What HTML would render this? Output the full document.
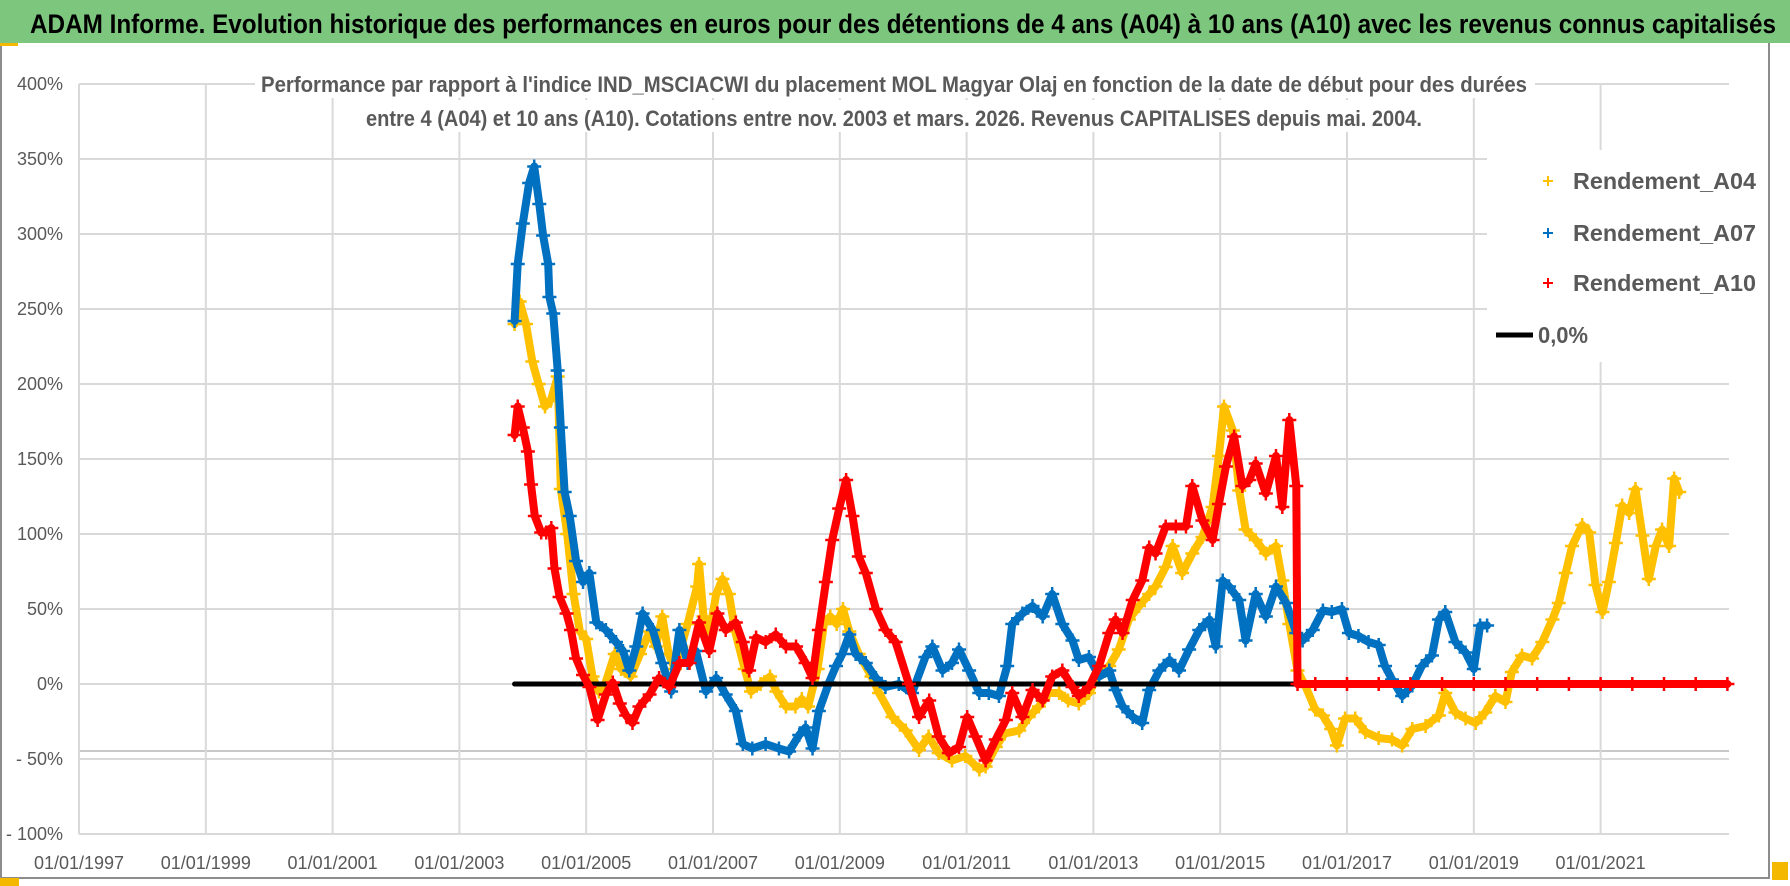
<!DOCTYPE html>
<html><head><meta charset="utf-8"><style>
html,body{margin:0;padding:0;background:#fff;}
svg{display:block;font-family:"Liberation Sans",sans-serif;}
</style></head><body>
<svg id="chart" width="1790" height="886" viewBox="0 0 1790 886" xmlns="http://www.w3.org/2000/svg">
<rect x="0" y="0" width="1790" height="886" fill="#fff"/>
<rect x="1" y="1" width="1768" height="877" fill="none" stroke="#8c8c8c" stroke-width="2"/>
<rect x="0" y="0" width="1790" height="43" fill="#7dc67e"/>
<rect x="0" y="43" width="18" height="3" fill="#f5b800"/>
<rect x="0" y="878" width="19" height="8" fill="#f5b800"/>
<rect x="1772" y="862" width="16" height="18" fill="#f5b800"/>
<text x="30" y="33" font-size="27" font-weight="bold" fill="#000" textLength="1746" lengthAdjust="spacingAndGlyphs">ADAM Informe. Evolution historique des performances en euros pour des détentions de 4 ans (A04) à 10 ans (A10) avec les revenus connus capitalisés</text>
<g id="grid"></g>
<g id="yaxis"></g>
<g id="xaxis"></g>
<g id="series"></g>
<rect x="255" y="68" width="1280" height="30" fill="#fff"/>
<rect x="360" y="100" width="1070" height="32" fill="#fff"/>
<text x="261" y="92" font-size="22" font-weight="bold" fill="#595959" textLength="1266" lengthAdjust="spacingAndGlyphs">Performance par rapport à l'indice IND_MSCIACWI  du placement MOL Magyar Olaj en fonction de la date de début pour des durées</text>
<text x="366" y="126" font-size="22" font-weight="bold" fill="#595959" textLength="1056" lengthAdjust="spacingAndGlyphs">entre 4 (A04) et 10 ans (A10). Cotations entre nov. 2003 et mars. 2026. Revenus CAPITALISES depuis mai. 2004.</text>
<g>
<rect x="1487" y="150" width="280" height="212" fill="#fff"/>
<g><path d="M1543 181h10M1548 176v10" stroke="#ffc000" stroke-width="2"/><text x="1573" y="189" font-size="23" font-weight="bold" fill="#595959" textLength="183" lengthAdjust="spacingAndGlyphs">Rendement_A04</text></g>
<g><path d="M1543 233h10M1548 228v10" stroke="#0070c0" stroke-width="2"/><text x="1573" y="241" font-size="23" font-weight="bold" fill="#595959" textLength="183" lengthAdjust="spacingAndGlyphs">Rendement_A07</text></g>
<g><path d="M1543 283h10M1548 278v10" stroke="#ff0000" stroke-width="2"/><text x="1573" y="291" font-size="23" font-weight="bold" fill="#595959" textLength="183" lengthAdjust="spacingAndGlyphs">Rendement_A10</text></g>
<g><line x1="1496" y1="335" x2="1533" y2="335" stroke="#000" stroke-width="5"/><text x="1538" y="343" font-size="23" font-weight="bold" fill="#595959" textLength="50" lengthAdjust="spacingAndGlyphs">0,0%</text></g>
</g>
</svg>
<script>
const yTicks = [400,350,300,250,200,150,100,50,0,-50,-100];
const yTickLabels = ["400%","350%","300%","250%","200%","150%","100%","50%","0%","- 50%","- 100%"];
const xTicks = [1997,1999,2001,2003,2005,2007,2009,2011,2013,2015,2017,2019,2021];
const xTickLabels = ["01/01/1997","01/01/1999","01/01/2001","01/01/2003","01/01/2005","01/01/2007","01/01/2009","01/01/2011","01/01/2013","01/01/2015","01/01/2017","01/01/2019","01/01/2021"];

const datesA04 = [2003.87,2003.95,2004.05,2004.15,2004.25,2004.35,2004.45,2004.55,2004.6,2004.7,2004.8,2004.9,2005.0,2005.1,2005.2,2005.3,2005.45,2005.55,2005.7,2005.85,2006.0,2006.1,2006.2,2006.3,2006.4,2006.5,2006.6,2006.75,2006.78,2006.85,2006.95,2007.05,2007.15,2007.25,2007.35,2007.5,2007.6,2007.75,2007.9,2008.0,2008.15,2008.3,2008.4,2008.5,2008.65,2008.75,2008.85,2008.95,2009.05,2009.15,2009.3,2009.5,2009.62,2009.83,2010.04,2010.25,2010.4,2010.56,2010.77,2010.98,2011.2,2011.3,2011.46,2011.6,2011.83,2011.98,2012.14,2012.3,2012.46,2012.6,2012.77,2012.93,2013.09,2013.25,2013.4,2013.56,2013.72,2013.88,2013.98,2014.14,2014.25,2014.4,2014.56,2014.72,2014.88,2014.98,2015.06,2015.2,2015.3,2015.4,2015.56,2015.72,2015.88,2015.98,2016.09,2016.22,2016.35,2016.5,2016.62,2016.75,2016.84,2016.97,2017.13,2017.29,2017.5,2017.71,2017.87,2018.03,2018.24,2018.45,2018.55,2018.71,2018.87,2019.03,2019.18,2019.34,2019.5,2019.6,2019.76,2019.92,2020.08,2020.24,2020.34,2020.45,2020.55,2020.71,2020.82,2020.92,2021.03,2021.13,2021.24,2021.34,2021.45,2021.55,2021.66,2021.76,2021.87,2021.97,2022.08,2022.16,2022.24];
const valuesA04 = [240,255,240,215,200,185,190,205,130,100,60,35,30,5,-5,0,20,10,5,20,35,25,45,20,10,25,40,65,80,45,35,60,70,60,35,10,-5,0,5,-5,-15,-15,-10,-15,10,40,45,40,50,35,20,5,-6,-22,-31,-44,-35,-46,-51,-48,-57,-55,-42,-33,-31,-22,-15,-6,-6,-11,-13,-6,7,12,23,43,52,60,65,78,92,74,87,98,118,152,185,169,129,103,96,87,92,69,40,9,-2,-17,-21,-30,-41,-23,-23,-32,-36,-37,-41,-30,-28,-21,-6,-19,-23,-26,-19,-8,-12,8,19,17,28,43,54,74,92,106,101,66,48,68,94,119,114,130,99,70,92,103,92,137,128];

const datesA07 = [2003.87,2003.92,2004.0,2004.1,2004.18,2004.26,2004.32,2004.4,2004.42,2004.48,2004.55,2004.6,2004.66,2004.74,2004.84,2004.95,2005.05,2005.16,2005.31,2005.47,2005.58,2005.68,2005.79,2005.89,2006.05,2006.2,2006.34,2006.47,2006.6,2006.73,2006.89,2007.05,2007.2,2007.36,2007.47,2007.62,2007.83,2008.04,2008.2,2008.36,2008.46,2008.57,2008.67,2008.83,2008.94,2009.04,2009.15,2009.25,2009.41,2009.57,2009.72,2009.93,2010.14,2010.35,2010.46,2010.62,2010.77,2010.88,2011.04,2011.2,2011.35,2011.51,2011.64,2011.72,2011.88,2012.04,2012.2,2012.35,2012.51,2012.67,2012.77,2012.93,2013.09,2013.25,2013.35,2013.46,2013.62,2013.77,2013.88,2014.04,2014.2,2014.35,2014.51,2014.67,2014.83,2014.93,2015.04,2015.14,2015.3,2015.4,2015.56,2015.72,2015.88,2016.04,2016.2,2016.3,2016.46,2016.62,2016.76,2016.92,2017.03,2017.18,2017.34,2017.5,2017.6,2017.71,2017.87,2018.03,2018.18,2018.34,2018.45,2018.55,2018.71,2018.87,2019.0,2019.1,2019.21];
const valuesA07 = [242,280,307,334,345,320,299,280,258,247,209,171,128,112,82,68,74,41,36,28,22,9,25,47,36,14,-5,36,14,22,-5,4,-7,-18,-40,-43,-40,-43,-45,-34,-29,-43,-18,1,12,20,33,20,14,4,-2,0,-6,18,25,9,14,23,9,-6,-6,-8,12,40,47,52,45,60,40,29,16,18,5,9,-4,-15,-22,-26,-4,9,16,9,23,36,43,25,69,65,56,29,60,45,65,54,34,29,36,49,48,50,34,32,28,26,12,3,-8,-1,12,19,43,48,28,21,10,39,39];

const datesA10 = [2003.87,2003.92,2004.0,2004.08,2004.13,2004.19,2004.29,2004.37,2004.45,2004.5,2004.58,2004.69,2004.76,2004.84,2004.95,2005.05,2005.18,2005.31,2005.42,2005.53,2005.63,2005.73,2005.84,2006.0,2006.15,2006.31,2006.47,2006.63,2006.78,2006.94,2007.07,2007.2,2007.36,2007.47,2007.57,2007.68,2007.83,2007.99,2008.15,2008.31,2008.46,2008.57,2008.67,2008.78,2008.88,2008.99,2009.1,2009.2,2009.3,2009.41,2009.57,2009.72,2009.88,2010.09,2010.25,2010.41,2010.56,2010.72,2010.88,2011.01,2011.14,2011.3,2011.46,2011.62,2011.72,2011.88,2012.04,2012.2,2012.35,2012.51,2012.67,2012.77,2012.93,2013.09,2013.25,2013.35,2013.46,2013.62,2013.77,2013.88,2013.98,2014.14,2014.3,2014.46,2014.56,2014.72,2014.88,2014.98,2015.09,2015.22,2015.35,2015.46,2015.56,2015.72,2015.88,2015.98,2016.09,2016.2,2016.22,2016.5,2017.0,2017.5,2018.0,2018.5,2019.0,2019.5,2020.0,2020.5,2021.0,2021.5,2022.0,2022.5,2023.0];
const valuesA10 = [166,185,171,155,133,112,101,101,104,77,58,47,36,17,6,-2,-24,-7,1,-13,-21,-26,-15,-7,4,-2,14,14,41,22,47,36,41,28,9,31,28,33,25,25,14,4,36,68,96,117,136,112,85,74,50,36,28,0,-22,-11,-35,-46,-42,-22,-35,-51,-37,-24,-6,-22,-4,-11,5,9,-2,-8,-2,12,34,43,34,56,69,91,87,105,105,105,132,109,96,120,145,165,132,136,147,127,152,118,176,132,0,0,0,0,0,0,0,0,0,0,0,0,0,0,0];

const zeroDates = [2003.87,2016.22];
const zeroValues = [0,0];

const NS = "http://www.w3.org/2000/svg";
const X0 = 79, XPERYEAR = 63.4, Y0 = 684, YPERPCT = 1.5, XRIGHT = 1729;
function xScale(yr){ return X0 + (yr - 1997) * XPERYEAR; }
function yScale(v){ return Y0 - v * YPERPCT; }
function mk(tag, attrs, parent){ const e = document.createElementNS(NS, tag); for (const k in attrs) e.setAttribute(k, attrs[k]); parent.appendChild(e); return e; }

const grid = document.getElementById('grid');
yTicks.forEach(v => {
  const l = mk('line', {x1: X0, x2: XRIGHT, y1: yScale(v), y2: yScale(v), stroke: '#d9d9d9', 'stroke-width': 2}, grid);
  
  
});
const extra = mk('line', {x1: X0, x2: XRIGHT, y1: 751, y2: 751, stroke: '#c8c8c8', 'stroke-width': 2}, grid);


xTicks.forEach(t => {
  const l = mk('line', {x1: xScale(t), x2: xScale(t), y1: yScale(400), y2: yScale(-100), stroke: '#d9d9d9', 'stroke-width': 2}, grid);
  
  
});

const yaxis = document.getElementById('yaxis');
yTicks.forEach((v, i) => {
  const t = mk('text', {x: 63, y: yScale(v) + 6, 'text-anchor': 'end', 'font-size': 18, fill: '#595959'}, yaxis);
  t.textContent = yTickLabels[i];
  
  
});
const xaxis = document.getElementById('xaxis');
xTicks.forEach((v, i) => {
  const t = mk('text', {x: xScale(v), y: 869, 'text-anchor': 'middle', 'font-size': 18, fill: '#595959'}, xaxis);
  t.textContent = xTickLabels[i];
  
  
});

const series = document.getElementById('series');
function drawSeries(dates, values, color, name){
  const g = mk('g', {}, series);
  
  
  const pts = dates.map((d, i) => xScale(d).toFixed(1) + ',' + yScale(values[i]).toFixed(1)).join(' ');
  const pl = mk('polyline', {points: pts, fill: 'none', stroke: color, 'stroke-width': 8, 'stroke-linejoin': 'round', 'stroke-linecap': 'round'}, g);
  
  
  dates.forEach((d, i) => {
    const x = xScale(d), y = yScale(values[i]);
    const p = mk('path', {d: `M${x-7} ${y}h14M${x} ${y-7}v14`, stroke: color, 'stroke-width': 2.5}, g);
    
    
  });
}
drawSeries(datesA04, valuesA04, '#ffc000', 'series-a04');
drawSeries(datesA07, valuesA07, '#0070c0', 'series-a07');
const zl = mk('line', {x1: xScale(zeroDates[0]), x2: xScale(zeroDates[1]), y1: yScale(zeroValues[0]), y2: yScale(zeroValues[1]), stroke: '#000', 'stroke-width': 5, 'stroke-linecap': 'round'}, series);


drawSeries(datesA10, valuesA10, '#ff0000', 'series-a10');
</script>
</body></html>
